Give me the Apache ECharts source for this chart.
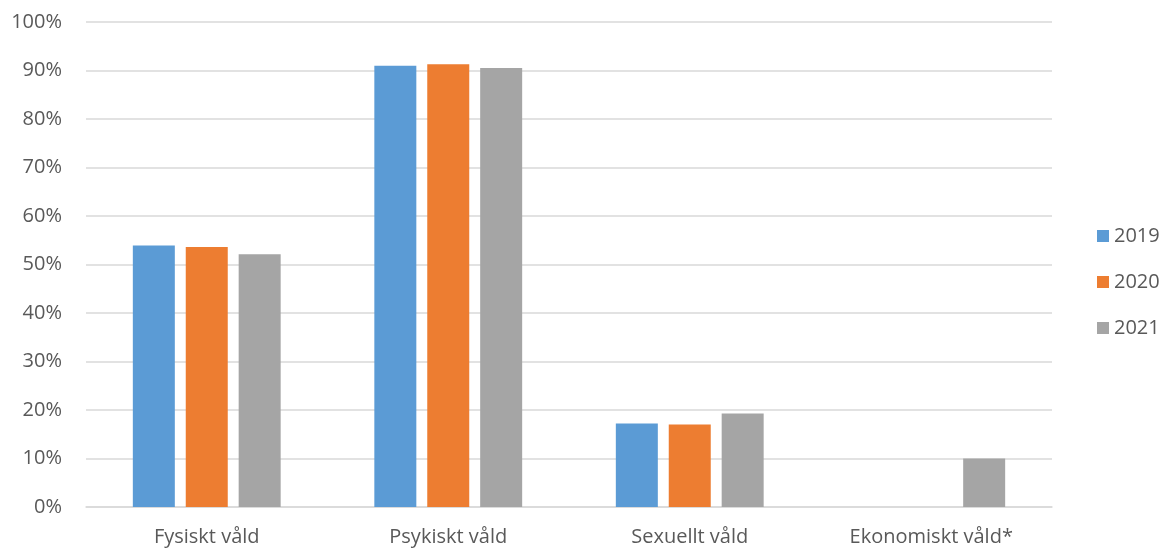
<!DOCTYPE html>
<html>
<head>
<meta charset="utf-8">
<script src="https://cdn.jsdelivr.net/npm/echarts@6/dist/echarts.min.js"></script>
<style>html,body{margin:0;padding:0;background:#fff;}#c{width:1161px;height:548px;}</style>
</head>
<body>
<div id="c"></div>
<script>
const categories = ['Fysiskt våld', 'Psykiskt våld', 'Sexuellt våld', 'Ekonomiskt våld*'];
const years = ['2019', '2020', '2021'];
const v2019 = [53.9, 91.0, 17.2, null];
const v2020 = [53.6, 91.3, 17.0, null];
const v2021 = [52.1, 90.5, 19.3, 10.0];
const yTicks = [0, 10, 20, 30, 40, 50, 60, 70, 80, 90, 100];
const colors = ['#5b9bd5', '#ed7d31', '#a5a5a5'];

const font = '"Open Sans", Arial, sans-serif';
const chart = echarts.init(document.getElementById('c'), null, {renderer: 'canvas'});
const seriesData = [v2019, v2020, v2021];
chart.setOption({
  animation: false,
  color: colors,
  grid: {left: 86, right: 109, top: 22, bottom: 41, containLabel: false},
  legend: {
    orient: 'vertical', left: 1092, top: 221,
    itemWidth: 12, itemHeight: 12, itemGap: 26,
    icon: 'rect',
    textStyle: {fontFamily: font, fontSize: 20, color: '#595959', lineHeight: 20},
    data: years
  },
  xAxis: {
    type: 'category', data: categories,
    axisLine: {show: true, lineStyle: {color: '#d9d9d9', width: 1.5}},
    axisTick: {show: false},
    axisLabel: {fontFamily: font, fontSize: 20, color: '#595959', margin: 20}
  },
  yAxis: {
    type: 'value', min: yTicks[0], max: yTicks[yTicks.length - 1], interval: 10,
    axisLine: {show: false}, axisTick: {show: false},
    splitLine: {lineStyle: {color: '#d9d9d9', width: 1.5}},
    axisLabel: {fontFamily: font, fontSize: 20, color: '#595959', margin: 24, formatter: '{value}%'}
  },
  series: years.map((y, i) => ({
    name: y, type: 'bar', data: seriesData[i],
    barWidth: 42, barGap: '26%',
    itemStyle: {color: colors[i]}
  }))
});
</script>
</body>
</html>
